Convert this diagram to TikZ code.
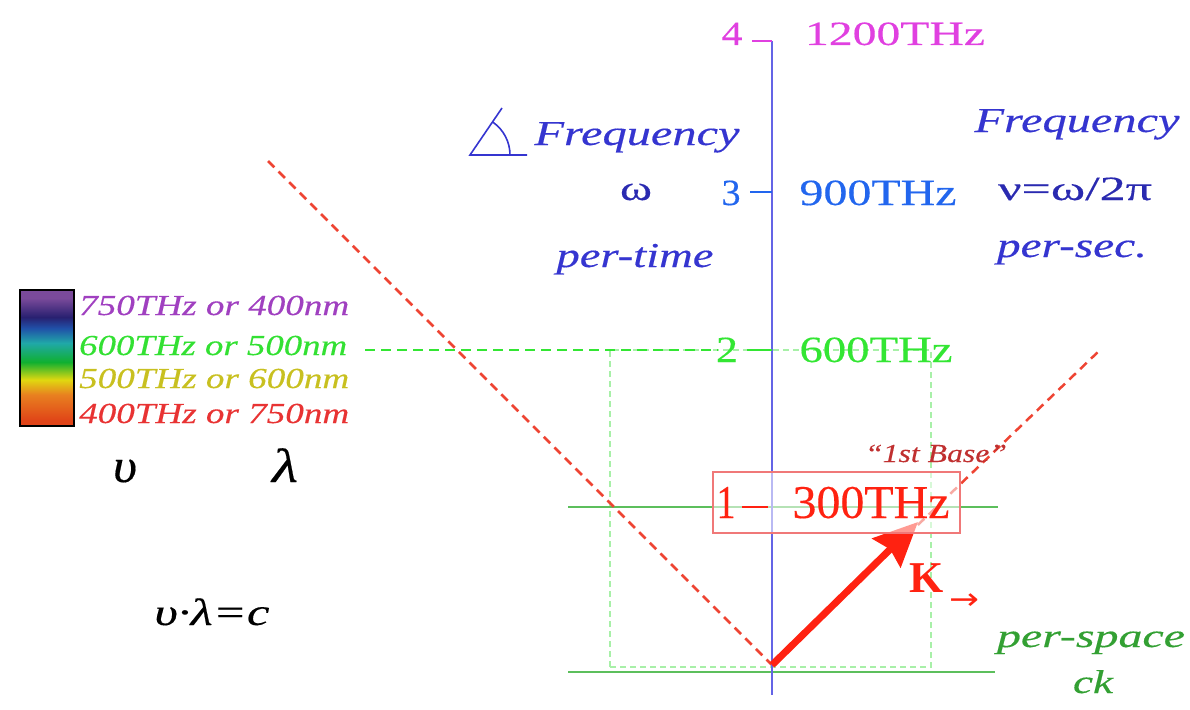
\documentclass[tikz,border=0pt]{standalone}
\usepackage{fontspec}
\usepackage{graphicx}
\setmainfont{Liberation Serif}[UprightFeatures={FakeBold=0.3}, ItalicFeatures={FakeBold=0.3}]
\newfontfamily\arrowfont{DejaVu Sans}
\usetikzlibrary{arrows.meta}

\newcommand\tw[2]{\resizebox{#1pt}{\height}{#2}}
\newcommand\fs[1]{\fontsize{#1}{#1}\selectfont}

\definecolor{axisblue}{HTML}{6464E6}
\definecolor{txtblue}{HTML}{3535D0}
\definecolor{omblue}{HTML}{2A2AB0}
\definecolor{lgreen}{HTML}{5CBF5C}
\definecolor{bgreen}{HTML}{33E633}
\definecolor{pgreen}{HTML}{A8F0A8}
\definecolor{rdash}{HTML}{EE4433}
\definecolor{magent}{HTML}{E040E0}
\definecolor{tblue}{HTML}{2266EE}
\definecolor{kred}{HTML}{FF2211}
\definecolor{boxred}{HTML}{F07878}
\definecolor{basered}{HTML}{C03030}
\definecolor{spgreen}{HTML}{33A033}
\definecolor{s750}{HTML}{A040C0}
\definecolor{s600}{HTML}{33E033}
\definecolor{s500}{HTML}{C8C020}
\definecolor{s400}{HTML}{E83333}
\definecolor{sred}{HTML}{E04418}
\definecolor{sorange}{HTML}{E88020}
\definecolor{syellow}{HTML}{E0D810}
\definecolor{sgreen}{HTML}{10B030}
\definecolor{steal}{HTML}{20A8A8}
\definecolor{sblue}{HTML}{2050A8}
\definecolor{snavy}{HTML}{282070}
\definecolor{spurple}{HTML}{7A4A9A}

\pgfdeclareverticalshading{spectrum}{100bp}{color(0bp)=(sred); color(27bp)=(sred); color(36.5bp)=(sorange); color(42bp)=(syellow); color(48.5bp)=(sgreen); color(55.5bp)=(steal); color(61bp)=(sblue); color(65bp)=(snavy); color(72bp)=(spurple); color(100bp)=(spurple)}

\begin{document}
\begin{tikzpicture}[x=1pt,y=-1pt,
  lbl/.style={inner sep=0pt, anchor=base},
  lblw/.style={inner sep=0pt, anchor=base west},
  pale/.style={pgreen, line width=1.3pt, dash pattern=on 6pt off 4pt},
  bright/.style={bgreen, line width=2.5pt, dash pattern=on 10pt off 6pt},
  solidg/.style={lgreen, line width=2.2pt},
  reddash/.style={rdash, line width=2.5pt, dash pattern=on 9pt off 6pt},
  tick/.style={line width=2.2pt}]
\useasboundingbox (0,0) rectangle (1190,709);

% coordinates
\coordinate (O) at (772,665);
\coordinate (axT) at (772,41);
\coordinate (axB) at (772,695);
\coordinate (gBL) at (568,672);
\coordinate (gBR) at (995,672);
\coordinate (gUL) at (568,507);
\coordinate (gUR) at (998,507);
\coordinate (pTL) at (610,350);
\coordinate (pTR) at (931,350);
\coordinate (pBL) at (610,667);
\coordinate (pBR) at (931,667);
\coordinate (dS) at (365,350);
\coordinate (dE) at (718,350);
\coordinate (rL) at (268,161);
\coordinate (rR) at (1100,350);
\coordinate (ktip) at (918,522);

% pale dashed frame
\draw[pale] (pBL) -- (pTL) -- (pTR) -- (pBR) -- cycle;
% green solid lines
\draw[solidg] (gBL) -- (gBR);
\draw[solidg] (gUL) -- (gUR);
% bright dashed
\draw[bright] (dS) -- (dE);
% red dashed light lines
\draw[reddash] (rL) -- (O) -- (rR);
% axis
\draw[axisblue, line width=2.2pt] (axT) -- (axB);
% ticks
\draw[tick, magent] (752,41) -- (axT);
\draw[tick, tblue] (750,192) -- (772,192);
\draw[tick, bgreen] (747,350) -- (772,350);

% K arrow
\draw[kred, line width=7pt, -{Stealth[length=44pt,width=40pt,inset=5pt]}] (O) -- (ktip);

% box
\node[draw=boxred, line width=2pt, fill=white, fill opacity=0.55, minimum width=247pt, minimum height=61pt, inner sep=0pt] (box) at (836.5,502.5) {};
\draw[tick, kred, line width=2.5pt] (742,507) -- (768,507);

% spectrum bar
\shade[shading=spectrum] (20,290) rectangle (74,426);
\node[draw=black, line width=2pt, minimum width=54pt, minimum height=136pt, inner sep=0pt] (bar) at (47,358) {};

% spectrum labels
\node[lblw, text=s750] (l750) at (79,315) {\tw{270}{\fs{29}\itshape 750THz or 400nm}};
\node[lblw, text=s600] (l600) at (79,355) {\tw{268}{\fs{29}\itshape 600THz or 500nm}};
\node[lblw, text=s500] (l500) at (79,388) {\tw{270}{\fs{29}\itshape 500THz or 600nm}};
\node[lblw, text=s400] (l400) at (79,423) {\tw{270}{\fs{29}\itshape 400THz or 750nm}};

% greek
\node[lbl] (ups) at (125,482) {\tw{24}{\fs{48}\itshape υ}};
\node[lbl] (lam) at (285,482) {\tw{26}{\fs{48}\itshape λ}};
\node[lbl] (eq) at (212,625) {\tw{115}{\fs{38}\itshape υ·λ=c}};

% angle symbol
\draw[txtblue, line width=1.6pt] (502,108) -- (470,155) -- (527,155);
\draw[txtblue, line width=1.6pt] (510,155) arc[start angle=0, end angle=-55, radius=40];

% left blue texts
\node[lbl, text=txtblue] (freqL) at (637,145) {\tw{205}{\fs{35}\itshape Frequency}};
\node[lbl, text=omblue] (omega) at (636,200) {\tw{32}{\fs{35}ω}};
\node[lbl, text=txtblue] (ptime) at (635,267) {\tw{157}{\fs{35}\itshape per-time}};
% right blue texts
\node[lbl, text=txtblue] (freqR) at (1077,132) {\tw{205}{\fs{35}\itshape Frequency}};
\node[lbl, text=omblue] (nu) at (1075,200) {\tw{154}{\fs{34}ν=ω/2π}};
\node[lbl, text=txtblue] (psec) at (1072,257) {\tw{150}{\fs{35}\itshape per-sec.}};

% tick labels
\node[lbl, text=magent] (n4) at (732,45) {\tw{21}{\fs{34}4}};
\node[lbl, text=magent] (f4) at (895,45) {\tw{180}{\fs{34}1200THz}};
\node[lbl, text=tblue] (n3) at (731,205) {\tw{19}{\fs{37}3}};
\node[lbl, text=tblue] (f3) at (878,205) {\tw{157}{\fs{37}900THz}};
\node[lbl, text=bgreen] (n2) at (727,362) {\tw{22}{\fs{37}2}};
\node[lbl, text=bgreen] (f2) at (876,362) {\tw{153}{\fs{37}600THz}};
\node[lbl, text=kred] (n1) at (726,518) {\tw{19}{\fs{47}1}};
\node[lbl, text=kred] (f1) at (871,518) {\tw{157}{\fs{47}300THz}};

% first base
\node[lbl, text=basered] (base) at (936,462) {\tw{142}{\fs{26}\itshape “1st Base”}};

% K
\node[lbl, text=kred] (K) at (927,592) {\fs{44}\bfseries K};
\node[text=kred, inner sep=0pt] (karr) at (964,602) {\tw{30}{\arrowfont\fs{30}→}};

% per-space
\node[lbl, text=spgreen] (pspace) at (1091,647) {\tw{188}{\fs{33}\itshape per-space}};
\node[lbl, text=spgreen] (ck) at (1093,693) {\tw{40}{\fs{33}\itshape ck}};
\end{tikzpicture}
\end{document}
